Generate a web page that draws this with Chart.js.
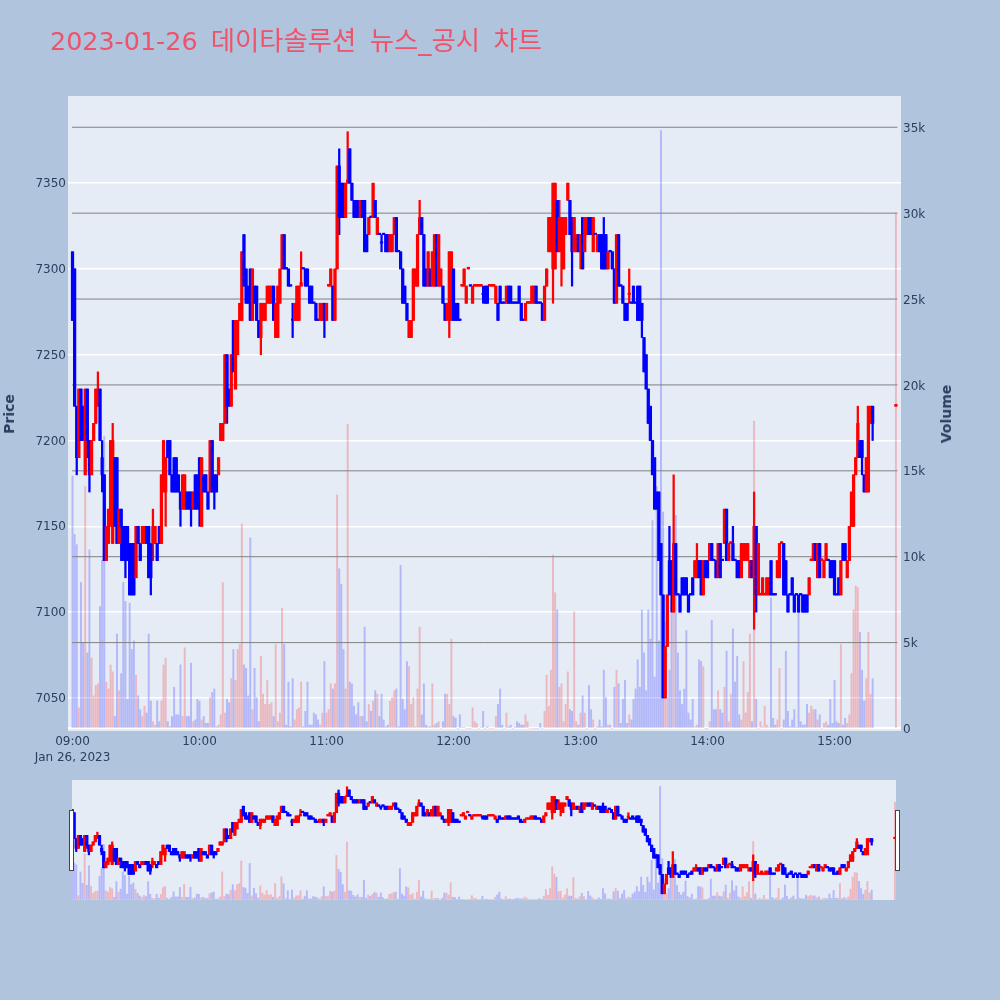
<!DOCTYPE html>
<html>
<head>
<meta charset="utf-8">
<script src="https://cdn.jsdelivr.net/npm/chart.js@4"></script>
<style>
  html, body { margin: 0; padding: 0; background: #B0C4DE; }
  body { width: 1000px; height: 1000px; position: relative; overflow: hidden; font-family: "DejaVu Sans", "Noto Sans CJK KR", sans-serif; }
  #plotbg { position: absolute; left: 68px; top: 96px; width: 833px; height: 635px; background: #E5ECF6; }
  #title { position: absolute; left: 50px; top: 19px; font-size: 25.4px; color: #EE5369; white-space: nowrap; word-spacing: 5px; }
  #title span { font-size: 26.4px; }
  .axis-title { position: absolute; font-size: 14px; font-weight: bold; color: #2a3f5f; transform: translate(-50%, -50%) rotate(-90deg); white-space: nowrap; }
  #main { position: absolute; left: 0; top: 0; }
  #mini { position: absolute; left: 72px; top: 780px; background: #E5ECF6; }
  .handle { position: absolute; top: 810px; width: 3px; height: 59px; background: #fff; border: 1px solid #444; }
</style>
</head>
<body>
<div id="plotbg"></div>
<canvas id="main" width="1000" height="780"></canvas>
<canvas id="mini" width="824" height="120"></canvas>
<div id="title">2023-01-26 <span>데이타솔루션 뉴스_공시 차트</span></div>
<div class="axis-title" style="left:9px;top:414px">Price</div>
<div class="axis-title" style="left:946px;top:414px">Volume</div>
<div class="handle" style="left:69px"></div>
<div class="handle" style="left:895px"></div>
<script>
// one value per minute from 09:00, null where nothing traded
const opens = [
  7310,7300,7220,7190,7230,7220,7180,7230,7200,7180,
  7200,7210,7220,7230,7190,7180,7130,7140,7150,7140,
  7190,7190,7140,7160,7150,7150,7150,7140,7140,7140,
  7120,7150,7140,7140,7140,7150,7150,7140,7140,7140,
  7140,7150,7140,7170,7170,7200,7200,7180,7190,7190,
  7180,7170,7160,7160,7170,7170,7170,7160,7180,7180,
  7190,7150,7180,7180,7170,7170,7200,7180,7180,7180,
  7200,7200,7210,7250,7230,7220,7270,7230,7250,7270,
  7270,7320,7300,7290,7300,7270,7290,7290,7270,7260,
  7270,7270,7280,7280,7280,7290,7260,7260,7280,7300,
  7320,7300,7300,7290,7270,7270,7270,7270,7290,7300,
  7300,7300,7290,7290,7280,7280,7270,7270,7270,7280,
  7270,7290,7290,7290,7270,7300,7360,7350,7350,7330,
  7350,7370,7350,7340,7340,7340,7330,7340,7340,7320,
  7320,7330,7330,7340,7320,7320,7315,7320,7320,7320,
  7310,7310,7320,7330,7310,7310,7300,7290,7280,7260,
  7260,7270,7290,7290,7320,7330,7320,7300,7290,7300,
  7290,7290,7320,7290,7290,7290,7280,7270,7270,7270,
  7300,7280,7280,7270,7290,7290,7280,7300,7290,7280,
  7290,7290,7290,7290,7285,7290,7290,7290,7290,7290,
  7280,7280,7290,7280,7280,7280,7290,7290,7280,7280,
  7280,7290,7280,7270,7270,7280,7280,7280,7280,7290,
  7280,7280,7280,7270,7290,7310,7310,7300,7300,7340,
  7310,7310,7300,7320,7340,7340,7330,7310,7310,7320,
  7310,7330,7310,7320,7330,7330,7310,7320,7310,7320,
  7320,7320,7320,7300,7310,7310,7300,7280,7320,7290,
  7290,7280,7280,7285,7280,7290,7280,7290,7290,7280,
  7260,7250,7230,7220,7200,7190,7170,7170,7140,7110,
  7050,7080,7130,7130,7100,7140,7110,7110,7120,7120,
  7120,7110,7110,7120,7120,7120,7130,7130,7110,7130,
  7130,7130,7140,7130,7130,7120,7140,7130,7140,7160,
  7130,7140,7140,7130,7130,7130,7120,7130,7130,7130,
  7120,7130,7120,7150,7110,7110,7110,7110,7110,7110,
  7130,7110,7110,7120,7120,7140,7140,7130,7110,7110,
  7120,7110,7110,7110,7110,7110,7110,7110,7110,7130,
  7130,7140,7120,7140,7130,7120,7130,7130,7130,7130,
  7130,7110,7120,7110,7140,7140,7120,7130,7150,7150,
  7180,7190,7200,7200,7180,7170,7170,7210,7220,null,
  null,null,null,null,null,null,null,null,null,7220
];
const highs = [
  7310,7300,7220,7230,7230,7220,7230,7230,7200,7200,
  7210,7230,7240,7230,7200,7180,7150,7160,7200,7210,
  7190,7190,7160,7160,7150,7150,7150,7140,7140,7140,
  7150,7150,7140,7150,7150,7150,7150,7140,7160,7150,
  7140,7150,7180,7200,7190,7200,7200,7180,7190,7190,
  7180,7170,7180,7180,7170,7170,7170,7170,7180,7180,
  7190,7190,7180,7180,7170,7200,7200,7180,7180,7190,
  7210,7210,7250,7250,7230,7250,7270,7270,7270,7280,
  7310,7320,7300,7290,7300,7300,7290,7290,7270,7280,
  7280,7280,7290,7290,7290,7290,7280,7290,7300,7320,
  7320,7300,7300,7290,7280,7280,7290,7290,7310,7300,
  7300,7300,7290,7290,7280,7280,7270,7280,7280,7280,
  7280,7291,7300,7290,7300,7360,7370,7350,7350,7350,
  7380,7370,7350,7340,7340,7340,7340,7340,7340,7320,
  7330,7330,7350,7340,7330,7320,7320,7320,7320,7320,
  7320,7320,7330,7330,7310,7310,7300,7290,7280,7270,
  7270,7300,7300,7320,7340,7330,7320,7300,7310,7300,
  7310,7320,7320,7320,7300,7290,7280,7280,7310,7310,
  7300,7280,7280,7270,7291,7300,7290,7301,7290,7290,
  7291,7291,7291,7291,7290,7290,7290,7291,7291,7291,
  7290,7280,7290,7280,7280,7290,7290,7290,7280,7280,
  7280,7290,7280,7270,7280,7281,7281,7290,7290,7290,
  7280,7280,7280,7290,7300,7330,7330,7350,7350,7340,
  7340,7330,7330,7330,7350,7340,7330,7330,7320,7320,
  7320,7330,7330,7330,7330,7330,7330,7320,7320,7320,
  7320,7330,7320,7310,7310,7310,7300,7320,7320,7290,
  7290,7280,7280,7300,7280,7290,7280,7290,7290,7280,
  7260,7250,7230,7220,7200,7190,7170,7170,7140,7110,
  7080,7110,7150,7130,7180,7140,7110,7110,7120,7120,
  7120,7110,7110,7120,7130,7140,7130,7130,7130,7130,
  7130,7140,7140,7130,7130,7140,7140,7130,7160,7160,
  7140,7141,7150,7130,7130,7130,7140,7140,7140,7140,
  7130,7130,7170,7150,7140,7111,7120,7111,7120,7120,
  7130,7110,7110,7130,7140,7141,7140,7130,7110,7110,
  7120,7110,7110,7110,7110,7110,7110,7110,7120,7131,
  7140,7140,7140,7140,7131,7130,7140,7130,7130,7130,
  7130,7110,7120,7130,7140,7140,7130,7150,7170,7180,
  7190,7220,7200,7200,7180,7190,7220,7220,7220,null,
  null,null,null,null,null,null,null,null,null,7221
];
const lows = [
  7270,7220,7180,7190,7200,7200,7180,7190,7170,7180,
  7200,7210,7220,7200,7170,7130,7130,7140,7150,7140,
  7150,7140,7140,7130,7130,7120,7130,7110,7110,7110,
  7120,7140,7130,7140,7140,7140,7120,7110,7130,7140,
  7130,7140,7140,7170,7150,7190,7180,7170,7170,7170,
  7170,7150,7160,7160,7160,7160,7150,7160,7160,7160,
  7150,7150,7170,7170,7160,7170,7170,7160,7170,7180,
  7200,7200,7210,7210,7220,7220,7240,7230,7250,7270,
  7270,7290,7280,7280,7270,7270,7280,7270,7260,7250,
  7270,7270,7280,7280,7280,7270,7260,7260,7280,7300,
  7300,7300,7290,7290,7260,7270,7270,7270,7290,7300,
  7290,7290,7280,7280,7280,7270,7270,7270,7270,7260,
  7270,7290,7290,7270,7270,7300,7320,7330,7330,7330,
  7350,7350,7340,7330,7330,7330,7330,7330,7310,7310,
  7320,7330,7330,7330,7320,7320,7310,7320,7310,7310,
  7310,7310,7320,7310,7310,7300,7280,7280,7270,7260,
  7260,7270,7290,7290,7320,7320,7290,7290,7290,7290,
  7290,7290,7290,7290,7290,7280,7270,7270,7260,7270,
  7270,7270,7270,7270,7290,7290,7280,7300,7290,7280,
  7290,7290,7290,7290,7280,7280,7280,7290,7290,7290,
  7280,7270,7280,7280,7280,7280,7280,7280,7280,7280,
  7280,7280,7270,7270,7270,7280,7280,7280,7280,7280,
  7280,7280,7270,7270,7290,7310,7310,7280,7300,7310,
  7310,7290,7300,7320,7340,7320,7290,7310,7310,7310,
  7300,7300,7310,7320,7320,7320,7310,7320,7310,7310,
  7300,7300,7300,7300,7310,7300,7280,7280,7290,7290,
  7280,7270,7270,7280,7280,7280,7280,7270,7270,7260,
  7240,7230,7210,7200,7180,7160,7160,7130,7110,7050,
  7050,7080,7110,7100,7100,7110,7110,7100,7110,7110,
  7110,7100,7110,7110,7120,7120,7120,7110,7110,7120,
  7120,7130,7130,7130,7120,7120,7120,7130,7140,7130,
  7130,7140,7130,7130,7120,7120,7120,7130,7130,7130,
  7120,7120,7090,7100,7110,7110,7110,7110,7110,7110,
  7110,7110,7110,7120,7120,7140,7110,7110,7100,7110,
  7110,7100,7110,7100,7110,7100,7100,7100,7110,7130,
  7130,7130,7120,7120,7130,7120,7130,7130,7120,7120,
  7110,7110,7110,7110,7130,7130,7120,7130,7150,7150,
  7180,7190,7190,7180,7170,7170,7170,7210,7200,null,
  null,null,null,null,null,null,null,null,null,7220
];
const closes = [
  7270,7220,7190,7230,7200,7200,7230,7200,7180,7200,
  7210,7230,7230,7200,7180,7130,7150,7160,7200,7200,
  7150,7140,7160,7150,7130,7130,7130,7110,7110,7110,
  7150,7140,7130,7150,7150,7140,7120,7120,7150,7150,
  7130,7140,7180,7200,7190,7190,7180,7170,7170,7170,
  7170,7160,7180,7180,7160,7160,7160,7170,7160,7160,
  7160,7190,7170,7170,7160,7200,7170,7170,7170,7190,
  7210,7210,7250,7220,7220,7250,7240,7270,7270,7280,
  7310,7290,7280,7280,7270,7300,7280,7270,7260,7280,
  7280,7280,7290,7290,7290,7270,7280,7290,7300,7320,
  7300,7300,7290,7290,7270,7280,7290,7290,7292,7300,
  7290,7290,7280,7280,7280,7270,7270,7280,7280,7270,
  7280,7291,7300,7270,7300,7360,7330,7330,7330,7350,
  7352,7350,7340,7330,7330,7330,7340,7330,7310,7310,
  7330,7330,7350,7330,7330,7320,7315,7320,7310,7310,
  7320,7320,7330,7310,7310,7300,7280,7280,7270,7270,
  7270,7300,7300,7320,7330,7320,7290,7290,7310,7290,
  7310,7320,7290,7320,7300,7280,7270,7280,7310,7310,
  7270,7270,7270,7270,7291,7300,7290,7301,7290,7290,
  7291,7291,7291,7291,7285,7280,7280,7291,7291,7291,
  7290,7270,7280,7280,7280,7290,7280,7280,7280,7280,
  7280,7280,7270,7270,7280,7281,7281,7290,7290,7280,
  7280,7280,7270,7290,7300,7330,7330,7350,7350,7310,
  7330,7330,7330,7330,7350,7320,7310,7330,7320,7310,
  7320,7300,7330,7330,7320,7320,7330,7320,7320,7310,
  7300,7300,7300,7310,7310,7300,7280,7320,7290,7290,
  7280,7270,7270,7286,7280,7280,7280,7270,7270,7270,
  7240,7230,7210,7200,7180,7160,7160,7130,7110,7050,
  7080,7110,7110,7110,7140,7110,7110,7100,7110,7110,
  7110,7100,7110,7110,7130,7130,7120,7110,7130,7120,
  7120,7140,7130,7130,7120,7140,7120,7130,7160,7130,
  7140,7141,7130,7130,7120,7120,7140,7140,7140,7140,
  7130,7120,7150,7110,7140,7111,7120,7111,7120,7120,
  7110,7110,7110,7130,7140,7141,7110,7110,7100,7110,
  7110,7100,7110,7100,7110,7100,7100,7100,7120,7131,
  7140,7130,7140,7120,7131,7130,7140,7130,7120,7120,
  7110,7110,7110,7130,7130,7130,7130,7150,7170,7180,
  7190,7210,7190,7190,7170,7190,7220,7220,7210,null,
  null,null,null,null,null,null,null,null,null,7221
];
const volumes = [
  14700,11300,10700,1200,8500,5000,14100,4400,10400,4100,
  1900,2500,2600,7100,9800,17000,2700,2300,3700,3300,
  700,5500,2200,3200,8500,7400,1700,7300,4600,5100,
  3100,1900,1100,700,1300,900,5500,1600,400,200,
  1600,400,1600,3700,4100,400,100,700,2400,800,
  800,3700,700,4700,700,700,3800,400,500,1700,
  1600,500,700,300,300,1800,2100,2300,100,200,
  800,8500,900,1700,1500,2900,4600,2800,4600,4900,
  11900,3700,3500,1900,11100,1100,3500,1800,400,4200,
  2000,1400,2800,1400,1500,700,4900,400,900,7000,
  4900,200,2700,100,2900,500,1100,1200,2700,100,
  1000,2700,200,200,900,800,500,200,900,3900,
  900,1100,2600,2300,2600,13600,9300,8400,4600,2300,
  17700,2700,2600,1300,800,1500,700,700,5900,400,
  1400,1000,1600,2200,2000,700,2000,500,100,200,
  1600,1800,2200,2300,100,9500,1700,1100,3900,3600,
  1400,1800,100,2300,5900,800,2600,200,100,100,
  2600,200,300,400,0,400,2000,2000,1400,5200,
  700,600,0,800,50,50,0,0,0,1200,
  400,300,0,50,1000,0,100,0,0,0,
  700,1400,2300,200,0,900,100,200,0,50,
  400,300,200,200,800,400,0,0,0,0,
  0,300,0,1000,3100,1300,3400,10100,7900,6900,
  2400,2600,400,1400,3300,1100,1000,6800,400,200,
  900,1900,900,0,2500,1100,500,0,100,500,
  100,3400,1800,200,200,0,2400,3400,2600,300,
  1700,2800,300,800,500,1700,2300,4000,2400,6900,
  4400,2200,6900,5200,12100,3000,14100,5100,34800,12600,
  6200,1800,3400,7400,7900,12400,4400,2200,1400,2300,
  5700,900,500,1700,100,200,4000,3900,3600,0,
  0,400,6300,1100,1100,2200,1100,900,2400,4500,
  400,2000,5800,2700,4200,800,500,3900,900,2100,
  5500,400,17900,1700,0,400,100,1300,200,50,
  7600,600,200,500,3500,0,500,4500,1000,100,
  500,1100,50,6900,400,200,200,1400,900,1300,
  1100,1100,500,800,0,300,400,200,1700,300,
  2800,400,300,4900,200,600,300,800,3200,6900,
  8300,8200,5600,3400,1600,2900,5600,2000,2900,null,
  null,null,null,null,null,null,null,null,null,30000
];
const timeTicks = [0, 60, 120, 180, 240, 300, 360];
const timeLabels = [["09:00", "Jan 26, 2023"], "10:00", "11:00", "12:00", "13:00", "14:00", "15:00"];
const priceTicks = [7050, 7100, 7150, 7200, 7250, 7300, 7350];
const volumeTicks = [0, 5000, 10000, 15000, 20000, 25000, 30000, 35000];
const volumeTickLabels = ["0", "5k", "10k", "15k", "20k", "25k", "30k", "35k"];

const RED = "#ff0000", BLUE = "#0000ff";
const isUp = i => closes[i] > opens[i];
const candleColor = i => isUp(i) ? RED : BLUE;
const traded = opens.map((o, i) => i).filter(i => opens[i] !== null);

function candleDatasets(bodyWidth, wickWidth) {
  return [
    {
      type: "bar", yAxisID: "y", grouped: false, order: 2, barThickness: wickWidth, minBarLength: 1,
      data: traded.map(i => ({ x: i, y: [lows[i], highs[i]] })),
      backgroundColor: traded.map(candleColor)
    },
    {
      type: "bar", yAxisID: "y", grouped: false, order: 1, barThickness: bodyWidth, minBarLength: 1.5,
      data: traded.map(i => ({ x: i, y: [opens[i], closes[i]] })),
      backgroundColor: traded.map(candleColor)
    }
  ];
}

function volumeDataset() {
  return {
    type: "bar", yAxisID: "y2", grouped: false, order: 5, barThickness: 1.3,
    data: traded.map(i => ({ x: i, y: volumes[i] })),
    backgroundColor: traded.map(i => isUp(i) ? "rgba(255,0,0,0.22)" : "rgba(0,0,255,0.22)")
  };
}

// the dark rules that sit on the volume ticks
const ruleDatasets = volumeTicks.slice(1).map(v => ({
  type: "line", yAxisID: "y2", order: 4, borderColor: "#808080", borderWidth: 1, pointRadius: 0,
  data: [{ x: -0.2, y: v }, { x: 389.7, y: v }]
}));

const tickFont = { family: "'DejaVu Sans'", size: 12, lineHeight: 1.4 };

new Chart(document.getElementById("main"), {
  data: { datasets: [volumeDataset(), ...ruleDatasets, ...candleDatasets(2.6, 1.6)] },
  options: {
    responsive: false,
    animation: false,
    layout: { padding: { top: 96 } },
    plugins: { legend: { display: false }, tooltip: { enabled: false } },
    scales: {
      x: {
        type: "linear", min: -2.13, max: 391.4, offset: false,
        afterBuildTicks: s => { s.ticks = timeTicks.map(v => ({ value: v })); },
        afterFit: s => { s.height = 49; },
        grid: { display: false, drawTicks: false },
        border: { display: false },
        ticks: {
          autoSkip: false, maxRotation: 0, color: "#2a3f5f", font: tickFont, padding: 2,
          callback: (v, i) => timeLabels[i]
        }
      },
      y: {
        position: "left", min: 7030.7, max: 7400.8,
        afterBuildTicks: s => { s.ticks = priceTicks.map(v => ({ value: v })); },
        afterFit: s => { s.width = 68; },
        grid: { color: "#ffffff", lineWidth: 1.5, drawTicks: false },
        border: { display: false },
        ticks: { color: "#2a3f5f", font: tickFont, padding: 2, labelOffset: 1, callback: v => String(v) }
      },
      y2: {
        position: "right", min: -146, max: 36820,
        afterBuildTicks: s => { s.ticks = volumeTicks.map(v => ({ value: v })); },
        afterFit: s => { s.width = 99; },
        grid: { color: c => c.tick && c.tick.value === 0 ? "#ffffff" : "rgba(0,0,0,0)", lineWidth: 2, drawTicks: false },
        border: { display: false },
        ticks: { color: "#2a3f5f", font: tickFont, padding: 2, labelOffset: 1.5, callback: (v, i) => volumeTickLabels[i] }
      }
    }
  }
});

new Chart(document.getElementById("mini"), {
  data: { datasets: [volumeDataset(), ...candleDatasets(2.6, 1.6)] },
  options: {
    responsive: false,
    animation: false,
    plugins: { legend: { display: false }, tooltip: { enabled: false } },
    scales: {
      x: { type: "linear", min: 0, max: 389.5, offset: false, display: false },
      y: { min: 7030.7, max: 7400.8, display: false },
      y2: { min: -146, max: 36820, display: false }
    }
  }
});
</script>
</body>
</html>
